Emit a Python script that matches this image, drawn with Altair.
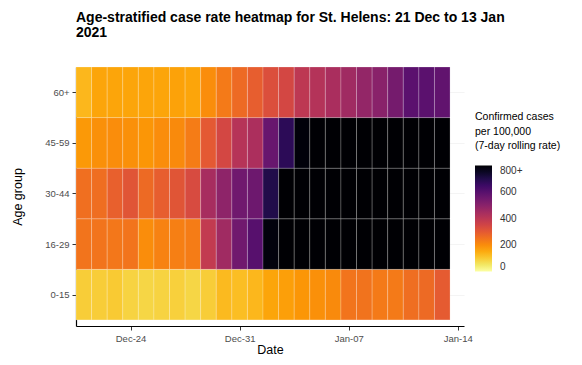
import altair as alt
import pandas as pd

# ---- data ----
dates = pd.date_range("2020-12-21", "2021-01-13", freq="D")
age_groups = ["0-15", "16-29", "30-44", "45-59", "60+"]

rate_0_15 = [95, 95, 100, 85, 80, 85, 90, 80, 95, 125, 120, 130,
             160, 170, 185, 195, 205, 245, 248, 235, 235, 258, 265, 295]
rate_16_29 = [245, 245, 240, 245, 200, 220, 225, 230, 385, 455, 550, 600,
              785, 850, 900, 950, 980, 1000, 1020, 1030, 1040, 1050, 1060, 1070]
rate_30_44 = [255, 258, 285, 310, 265, 290, 310, 335, 440, 490, 550, 555,
              700, 820, 880, 920, 950, 980, 1000, 1010, 1020, 1030, 1040, 1050]
rate_45_59 = [180, 195, 200, 195, 185, 200, 205, 230, 300, 345, 410, 430,
              565, 680, 790, 850, 880, 900, 920, 940, 950, 960, 970, 980]
rate_60p = [130, 160, 160, 160, 160, 160, 165, 160, 200, 235, 265, 290,
            325, 345, 395, 415, 435, 455, 480, 500, 540, 590, 590, 580]

x_ticks = ["2020-12-24T00:00:00", "2020-12-31T00:00:00",
           "2021-01-07T00:00:00", "2021-01-14T00:00:00"]
legend_values = [0, 200, 400, 600, 800]

series = [rate_0_15, rate_16_29, rate_30_44, rate_45_59, rate_60p]

rows = []
for gi, (grp, vals) in enumerate(zip(age_groups, series)):
    for d, v in zip(dates, vals):
        rows.append({
            "group": grp,
            "y0": gi + 0.5,
            "y1": gi + 1.5,
            "start": (d - pd.Timedelta(hours=12)).strftime("%Y-%m-%dT%H:%M:%S"),
            "end": (d + pd.Timedelta(hours=12)).strftime("%Y-%m-%dT%H:%M:%S"),
            "rate": v,
        })
df = pd.DataFrame(rows)

label_map = "{" + ",".join(f"'{i+1}':'{g}'" for i, g in enumerate(age_groups)) + "}"

FONT = "Liberation Sans"

chart = alt.Chart(df).mark_rect(
    stroke="white", strokeWidth=0.6, strokeOpacity=0.35
).encode(
    x=alt.X("start:T",
            scale=alt.Scale(domain=["2020-12-20T12:00:00", "2021-01-14T09:30:00"]),
            axis=alt.Axis(title="Date", values=x_ticks, format="%b-%d",
                          grid=False, labelFontSize=9.5, labelColor="#4d4d4d",
                          labelFont=FONT, titleFont=FONT, titleFontSize=12.5,
                          titleFontWeight="normal", titleColor="#000",
                          tickSize=4, tickColor="#333", domainColor="#000",
                          domainWidth=1.2, labelPadding=3, titlePadding=1)),
    x2="end:T",
    y=alt.Y("y0:Q",
            scale=alt.Scale(domain=[0.38, 5.5], nice=False, zero=False),
            axis=alt.Axis(title="Age group", values=[1, 2, 3, 4, 5],
                          labelExpr=f"{label_map}[datum.label]",
                          grid=True, gridColor="#ececec", gridWidth=0.6,
                          labelFontSize=9.5, labelColor="#4d4d4d",
                          labelFont=FONT, titleFont=FONT, titleFontSize=12.5,
                          titleFontWeight="normal", titleColor="#000",
                          tickSize=4, tickColor="#333", domainColor="#000",
                          domainWidth=1.2, labelPadding=3, titlePadding=20)),
    y2="y1:Q",
    color=alt.Color("rate:Q",
                    scale=alt.Scale(scheme="inferno", reverse=True,
                                    domain=[0, 800], clamp=True),
                    legend=alt.Legend(
                        title=["Confirmed cases", " per 100,000",
                               " (7-day rolling rate)"],
                        values=legend_values,
                        labelExpr="datum.value >= 800 ? '800+' : datum.label",
                        orient="none", legendX=399, legendY=45,
                        gradientLength=106, gradientThickness=17,
                        titleFont=FONT, titleFontSize=10.5,
                        titleFontWeight="normal", titleColor="#000",
                        titleLineHeight=14.5, titlePadding=14,
                        labelFont=FONT, labelFontSize=10, labelColor="#333",
                        labelOffset=8)),
).properties(
    width=388,
    height=259,
    title=alt.TitleParams(
        text=["Age-stratified case rate heatmap for St. Helens: 21 Dec to 13 Jan",
              "2021"],
        anchor="start", frame="group", font=FONT, fontSize=14,
        fontWeight="bold", color="#000", lineHeight=15, offset=27),
    autosize=alt.AutoSizeParams(type="none"),
    padding={"left": 68, "top": 59, "right": 110, "bottom": 31},
).configure_view(stroke=None)

chart.save("out.html", embed_options={"renderer": "svg", "actions": False})
